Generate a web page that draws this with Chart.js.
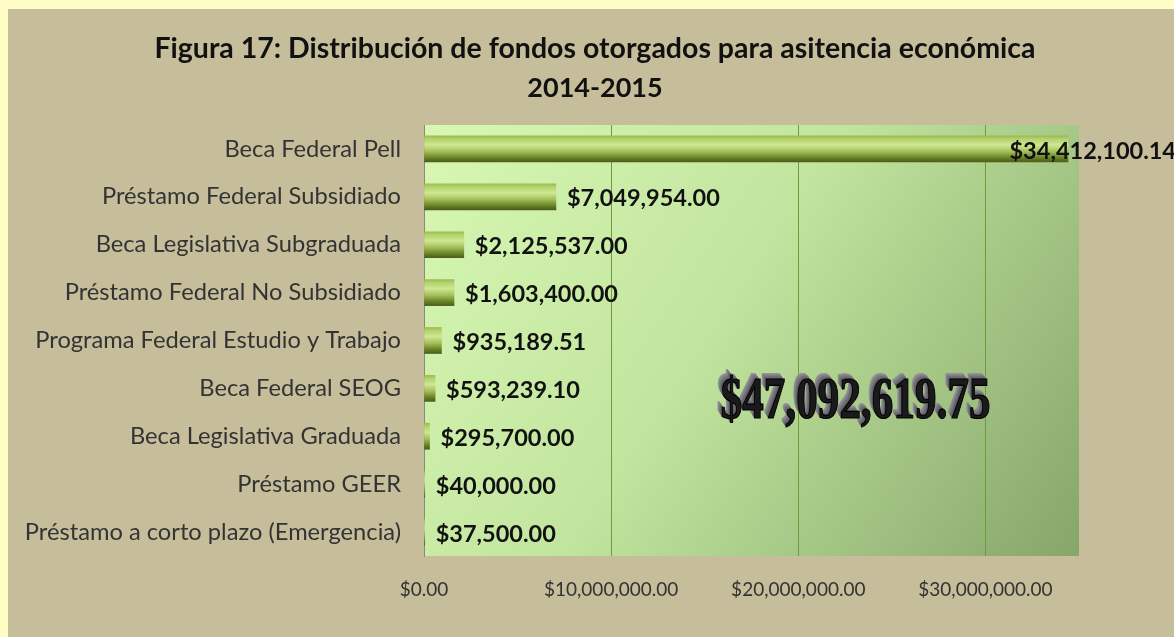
<!DOCTYPE html>
<html>
<head>
<meta charset="utf-8">
<script src="https://cdn.jsdelivr.net/npm/chart.js@4.4.0/dist/chart.umd.min.js"></script>
<style>
  html, body { margin: 0; padding: 0; background: #fefdc6; width: 1174px; height: 637px; overflow: hidden; }
  #panel { position: absolute; left: 8px; top: 9px; width: 1166px; height: 628px; background: #c6bd9a; }
</style>
</head>
<body>
<div id="panel"><canvas id="mycanvas" width="1166" height="628"></canvas></div>
<script>
var categories = [
  "Beca Federal Pell",
  "Préstamo Federal Subsidiado",
  "Beca Legislativa Subgraduada",
  "Préstamo Federal No Subsidiado",
  "Programa Federal Estudio y Trabajo",
  "Beca Federal SEOG",
  "Beca Legislativa Graduada",
  "Préstamo GEER",
  "Préstamo a corto plazo (Emergencia)"
];
var amounts = [34412100.14, 7049954.00, 2125537.00, 1603400.00, 935189.51, 593239.10, 295700.00, 40000.00, 37500.00];
var totalLabel = "$47,092,619.75";
var titleLines = ["Figura 17: Distribución de fondos otorgados para asitencia económica", "2014-2015"];
var xTicks = [0, 10000000, 20000000, 30000000];
var axisMax = 35000000;

function money(v) {
  return "$" + v.toLocaleString("en-US", { minimumFractionDigits: 2, maximumFractionDigits: 2 });
}

// title drawn by hand so it is centred on the whole panel, not on the plot
var titleBox = {
  id: "titleBox",
  afterDraw: function(chart) {
    var c = chart.ctx;
    c.save();
    c.font = "bold 28.5px Lato";
    c.fillStyle = "#111";
    c.textAlign = "center";
    c.textBaseline = "alphabetic";
    c.fillText(titleLines[0], 587, 49);
    c.font = "bold 27px Lato";
    c.fillText(titleLines[1], 587, 88);
    c.restore();
  }
};

var plotBg = {
  id: "plotBg",
  beforeDraw: function(chart) {
    var a = chart.chartArea, c = chart.ctx;
    var g = c.createLinearGradient(a.left, a.top, a.right, a.bottom);
    g.addColorStop(0, "#d8f8b4");
    g.addColorStop(0.45, "#c1e49e");
    g.addColorStop(1, "#86a66a");
    c.save();
    c.fillStyle = g;
    c.fillRect(a.left, a.top, a.right - a.left, a.bottom - a.top);
    c.restore();
  }
};

var valueLabels = {
  id: "valueLabels",
  afterDatasetsDraw: function(chart) {
    var c = chart.ctx;
    var meta = chart.getDatasetMeta(0);
    c.save();
    c.font = "bold 23.5px Lato";
    c.fillStyle = "#111";
    c.textBaseline = "middle";
    meta.data.forEach(function(bar, i) {
      var txt = money(amounts[i]);
      var w = c.measureText(txt).width;
      var x = Math.min(bar.x + 11, chart.width - w + 2);
      c.fillText(txt, x, bar.y + 2);
    });
    c.restore();
  }
};

var bigTotal = {
  id: "bigTotal",
  afterDatasetsDraw: function(chart) {
    var c = chart.ctx;
    var a = chart.chartArea;
    var cx = a.left + (a.right - a.left) * 0.659;
    var cy = a.top + (a.bottom - a.top) * 0.645;
    c.save();
    c.font = "bold 60px 'Liberation Serif'";
    c.textAlign = "center";
    c.textBaseline = "middle";
    var w = c.measureText(totalLabel).width;
    c.translate(cx, cy);
    c.scale(270 / w, 1);
    for (var k = 7; k >= 1; k--) {
      var sh = 70 + k * 11;
      c.fillStyle = "rgb(" + sh + "," + sh + "," + (sh + 6) + ")";
      c.fillText(totalLabel, -k * 0.9, -k * 0.9);
    }
    c.lineWidth = 1.2;
    c.strokeStyle = "#000";
    c.fillStyle = "#1a1a1a";
    c.fillText(totalLabel, 0, 0);
    c.strokeText(totalLabel, 0, 0);
    c.restore();
  }
};

function barFill(ctx) {
  var chart = ctx.chart;
  var y = chart.scales && chart.scales.y;
  if (!y || !chart.chartArea) return "#88a83a";
  var cy = y.getPixelForValue(ctx.dataIndex);
  var g = chart.ctx.createLinearGradient(0, cy - 13, 0, cy + 13);
  g.addColorStop(0, "#9cbc4c");
  g.addColorStop(0.12, "#b4d270");
  g.addColorStop(0.35, "#cfe890");
  g.addColorStop(0.6, "#a2c058");
  g.addColorStop(0.85, "#687f26");
  g.addColorStop(1, "#4a5e18");
  return g;
}

var ctx = document.getElementById("mycanvas");
var chart = new Chart(ctx, {
  type: "bar",
  data: {
    labels: categories,
    datasets: [{
      label: "Fondos otorgados 2014-2015",
      data: amounts,
      backgroundColor: barFill,
      borderWidth: 0,
      barThickness: 26
    }]
  },
  plugins: [plotBg, valueLabels, bigTotal, titleBox],
  options: {
    indexAxis: "y",
    responsive: false,
    animation: false,
    layout: { padding: { left: 0, right: 95, top: 116, bottom: 0 } },
    plugins: {
      legend: { display: false },
      tooltip: { enabled: false },
      title: { display: false }
    },
    scales: {
      x: {
        min: 0,
        max: axisMax,
        afterFit: function(s) { s.height = 81; },
        afterBuildTicks: function(s) {
          s.ticks = xTicks.map(function(v) { return { value: v }; });
        },
        ticks: {
          autoSkip: false,
          maxRotation: 0,
          padding: 22,
          color: "#333",
          font: { family: "Lato", size: 19 },
          callback: function(v) { return money(v); }
        },
        grid: { color: "#6f9b3c", lineWidth: 1, drawTicks: false },
        border: { display: false }
      },
      y: {
        afterFit: function(s) { s.width = 416; },
        ticks: {
          padding: 23,
          color: "#333",
          font: { family: "Lato", size: 23.7 }
        },
        grid: { display: false, drawTicks: false },
        border: { display: true, color: "#8a8a78", width: 1 }
      }
    }
  }
});
</script>
</body>
</html>
